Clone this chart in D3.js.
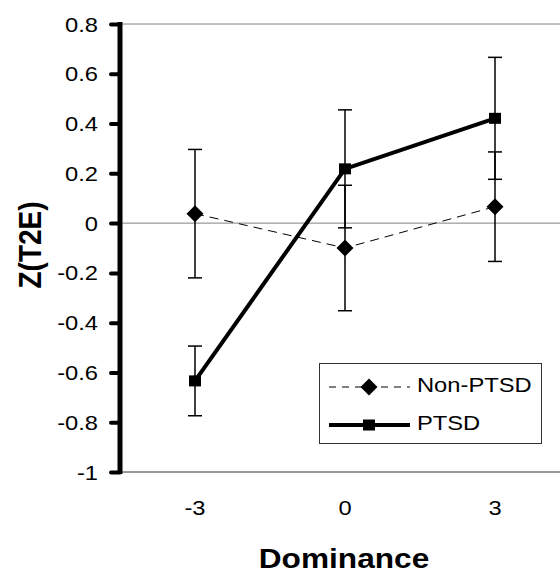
<!DOCTYPE html>
<html><head><meta charset="utf-8">
<script src="https://cdn.jsdelivr.net/npm/d3@7"></script>
<style>body{margin:0;background:#fff}svg{display:block}text{font-family:"Liberation Sans",Arial,sans-serif;fill:#000}</style>
</head><body>
<script>
const categories = ["-3", "0", "3"];
const nonPtsd = [0.038, -0.10, 0.066];
const nonPtsdErr = [0.258, 0.252, 0.22];
const ptsd = [-0.634, 0.218, 0.421];
const ptsdErr = [0.14, 0.237, 0.245];
const yTicks = [0.8, 0.6, 0.4, 0.2, 0, -0.2, -0.4, -0.6, -0.8, -1];
const seriesNames = ["Non-PTSD", "PTSD"];

const W = 560, H = 574, SX = 1.13;
const svg = d3.select("body").append("svg").attr("width", W).attr("height", H);

const x = d3.scalePoint().domain(categories).range([120, 570]).padding(0.5);
const y = d3.scaleLinear().domain([-1, 0.8]).range([472, 24]);

// gridlines / frame
svg.append("line").attr("x1", 120).attr("x2", W).attr("y1", y(0.8)).attr("y2", y(0.8)).attr("stroke", "#808080").attr("stroke-width", 1);
svg.append("line").attr("x1", 120).attr("x2", W).attr("y1", y(0)).attr("y2", y(0)).attr("stroke", "#808080").attr("stroke-width", 1);
svg.append("line").attr("x1", 120).attr("x2", W).attr("y1", y(-1)).attr("y2", y(-1)).attr("stroke", "#333").attr("stroke-width", 1);

// y axis
const yAxis = svg.append("g").attr("transform", "translate(120,0)")
  .call(d3.axisLeft(y).tickValues(yTicks).tickSize(11).tickFormat(d => String(+d.toFixed(1))));
yAxis.select(".domain").remove();
yAxis.append("line").attr("x1", 0).attr("x2", 0).attr("y1", y(0.8) - 2).attr("y2", y(-1) + 2).attr("stroke", "#000").attr("stroke-width", 5);
yAxis.selectAll(".tick line").attr("stroke", "#000").attr("stroke-width", 4).attr("stroke-linecap", "round").attr("x1", -9).attr("x2", 0);
yAxis.selectAll(".tick text").attr("x", 0).attr("dy", "7").attr("text-anchor", "end")
  .attr("transform", "translate(-22,0) scale(" + SX + ",1)")
  .style("font-size", "21px").style("font-family", "'Liberation Sans',Arial,sans-serif");

// x tick labels
svg.append("g").selectAll("text").data(categories).join("text")
  .attr("transform", d => "translate(" + x(d) + ",515) scale(" + SX + ",1)")
  .attr("text-anchor", "middle").style("font-size", "21px").text(d => d);

// axis titles
svg.append("text").attr("transform", "translate(344,568) scale(" + SX + ",1)")
  .attr("text-anchor", "middle").style("font-size", "28px").style("font-weight", "bold").text("Dominance");
svg.append("text").attr("transform", "translate(41,245) scale(" + SX + ",1) rotate(-90)")
  .attr("text-anchor", "middle").style("font-size", "28px").style("font-weight", "bold").text("Z(T2E)");

const line = d3.line().x((d, i) => x(categories[i])).y(d => y(d));

// lines
svg.append("path").datum(nonPtsd).attr("d", line).attr("fill", "none").attr("stroke", "#000").attr("stroke-width", 1).attr("stroke-dasharray", "9,6");
svg.append("path").datum(ptsd).attr("d", line).attr("fill", "none").attr("stroke", "#000").attr("stroke-width", 4);

// error bars
function errBars(vals, errs) {
  const g = svg.append("g").attr("stroke", "#000").attr("stroke-width", 1.5);
  vals.forEach((v, i) => {
    const cx = x(categories[i]);
    g.append("line").attr("x1", cx).attr("x2", cx).attr("y1", y(v + errs[i])).attr("y2", y(v - errs[i]));
    g.append("line").attr("x1", cx - 7).attr("x2", cx + 7).attr("y1", y(v + errs[i])).attr("y2", y(v + errs[i]));
    g.append("line").attr("x1", cx - 7).attr("x2", cx + 7).attr("y1", y(v - errs[i])).attr("y2", y(v - errs[i]));
  });
}
errBars(nonPtsd, nonPtsdErr);
errBars(ptsd, ptsdErr);

function diamond(cx, cy) {
  return `M${cx},${cy - 8.5}L${cx + 8.5},${cy}L${cx},${cy + 8.5}L${cx - 8.5},${cy}Z`;
}
svg.append("g").selectAll("path").data(nonPtsd).join("path")
  .attr("d", (d, i) => diamond(x(categories[i]), y(d))).attr("fill", "#000");
svg.append("g").selectAll("rect").data(ptsd).join("rect")
  .attr("x", (d, i) => x(categories[i]) - 6).attr("y", d => y(d) - 5.5)
  .attr("width", 12).attr("height", 11).attr("fill", "#000");

// legend
const lg = svg.append("g");
lg.append("rect").attr("x", 319.5).attr("y", 363.5).attr("width", 222).attr("height", 80)
  .attr("fill", "#fff").attr("stroke", "#333").attr("stroke-width", 1);
lg.append("line").attr("x1", 329).attr("x2", 410).attr("y1", 387).attr("y2", 387).attr("stroke", "#000").attr("stroke-width", 1).attr("stroke-dasharray", "7,6");
lg.append("path").attr("d", diamond(369, 387)).attr("fill", "#000");
lg.append("line").attr("x1", 329).attr("x2", 410).attr("y1", 425).attr("y2", 425).attr("stroke", "#000").attr("stroke-width", 4);
lg.append("rect").attr("x", 363).attr("y", 419.5).attr("width", 12).attr("height", 11).attr("fill", "#000");
lg.selectAll("text").data(seriesNames).join("text")
  .attr("transform", (d, i) => "translate(417," + (i ? 430 : 392) + ") scale(" + SX + ",1)")
  .style("font-size", "21px").text(d => d);
</script>
</body></html>
